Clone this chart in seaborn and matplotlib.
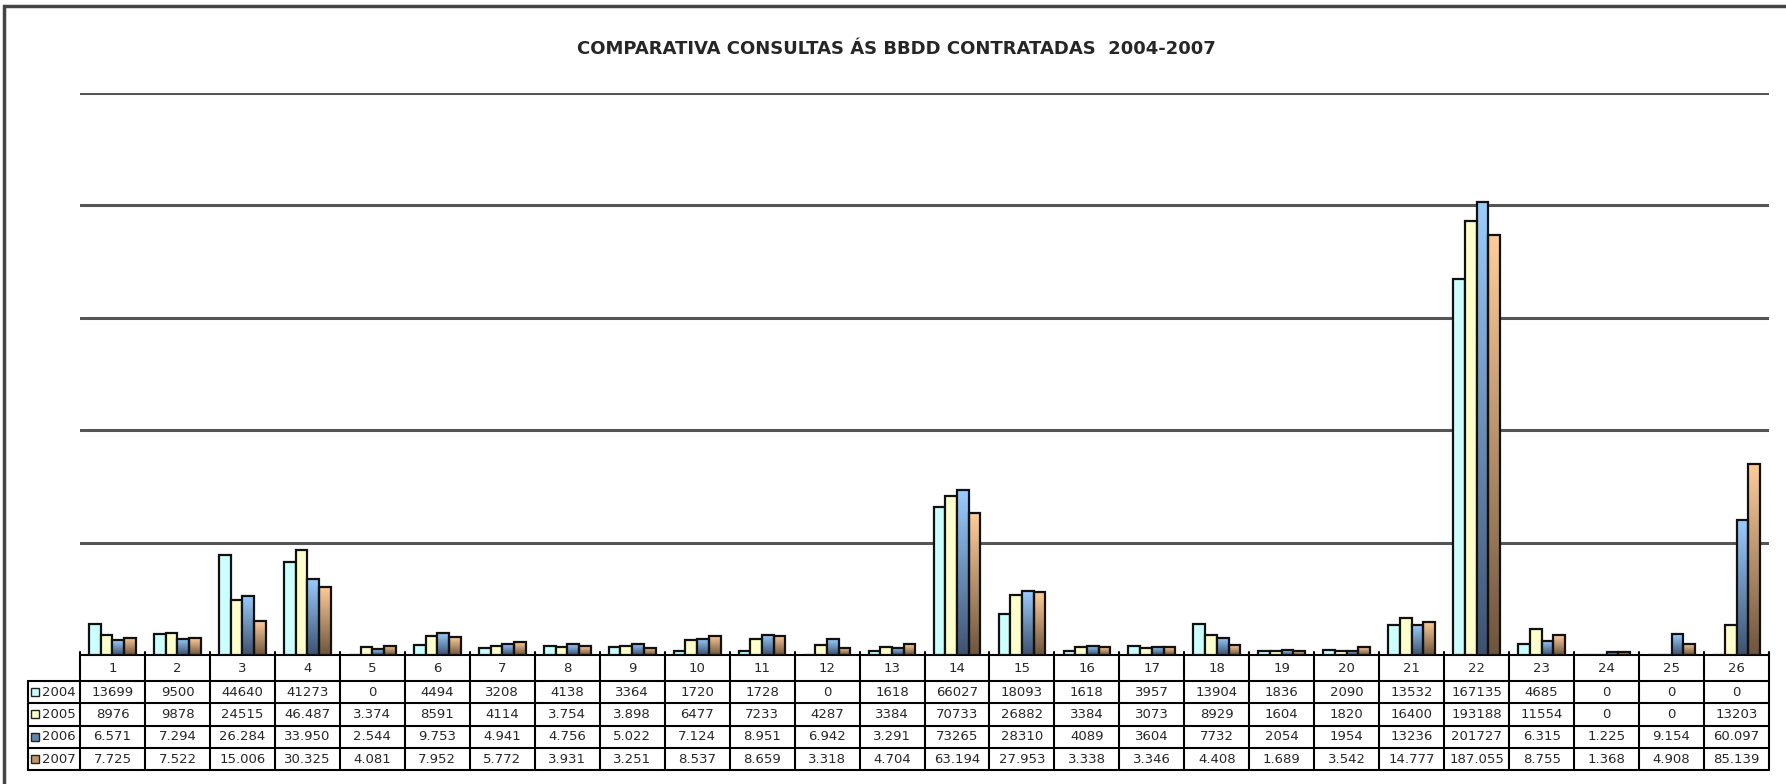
import matplotlib
matplotlib.use("Agg")
import matplotlib.pyplot as plt
import matplotlib.transforms as mtransforms
from matplotlib.patches import Rectangle
import numpy as np
import pandas as pd
import seaborn as sns

# values as printed in the data table (dots are thousands separators)
categories = [str(i) for i in range(1, 27)]
years = ["2004", "2005", "2006", "2007"]
txt_2004 = ["13699", "9500", "44640", "41273", "0", "4494", "3208", "4138", "3364", "1720",
            "1728", "0", "1618", "66027", "18093", "1618", "3957", "13904", "1836", "2090",
            "13532", "167135", "4685", "0", "0", "0"]
txt_2005 = ["8976", "9878", "24515", "46.487", "3.374", "8591", "4114", "3.754", "3.898", "6477",
            "7233", "4287", "3384", "70733", "26882", "3384", "3073", "8929", "1604", "1820",
            "16400", "193188", "11554", "0", "0", "13203"]
txt_2006 = ["6.571", "7.294", "26.284", "33.950", "2.544", "9.753", "4.941", "4.756", "5.022", "7.124",
            "8.951", "6.942", "3.291", "73265", "28310", "4089", "3604", "7732", "2054", "1954",
            "13236", "201727", "6.315", "1.225", "9.154", "60.097"]
txt_2007 = ["7.725", "7.522", "15.006", "30.325", "4.081", "7.952", "5.772", "3.931", "3.251", "8.537",
            "8.659", "3.318", "4.704", "63.194", "27.953", "3.338", "3.346", "4.408", "1.689", "3.542",
            "14.777", "187.055", "8.755", "1.368", "4.908", "85.139"]
table_txt = [txt_2004, txt_2005, txt_2006, txt_2007]

face = {"2004": "#CCFFFF", "2005": "#FFFFCC", "2006": "#99CCFF", "2007": "#FFCC99"}
grad = {"2006": ("#99CCFF", "#3E5270"), "2007": ("#FFCC99", "#6E553D")}
key = {"2004": "#CCFFFF", "2005": "#FFFFCC", "2006": "#5F86B0", "2007": "#C0956A"}

rows = []
for y, txt in zip(years, table_txt):
    for c, s in zip(categories, txt):
        rows.append({"cat": c, "year": y, "value": int(s.replace(".", ""))})
df = pd.DataFrame(rows)

sns.set_style("white")
plt.rcParams["font.family"] = ["DejaVu Sans"]

fig = plt.figure(figsize=(17.86, 7.84), dpi=100)
ax = fig.add_axes([80 / 1786, 1 - 655 / 784, 1689 / 1786, 562 / 784])

sns.barplot(data=df, x="cat", y="value", hue="year", hue_order=years, order=categories,
            palette=face, saturation=1, width=0.72, edgecolor="#111111", linewidth=1.6,
            legend=False, ax=ax, zorder=3)

# vertical gradient fill for 2006 / 2007 bars
n = len(categories)
for i, y in enumerate(years):
    if y not in grad:
        continue
    top = np.array(matplotlib.colors.to_rgb(grad[y][0]))
    bot = np.array(matplotlib.colors.to_rgb(grad[y][1]))
    g = np.linspace(0, 1, 64)[:, None, None]
    img = top * (1 - g) + bot * g
    for p in ax.patches[i * n:(i + 1) * n]:
        h = p.get_height()
        if h <= 0:
            continue
        x0 = p.get_x()
        im = ax.imshow(img, extent=(x0, x0 + p.get_width(), 0, h), aspect="auto",
                       origin="upper", zorder=3.5, interpolation="bilinear")
        im.set_clip_path(p)
        p.set_zorder(4)
        p.set_facecolor("none")

ax.set_xlim(-0.5, n - 0.5)
ax.set_ylim(0, 250000)
ax.set_aspect("auto")
ax.set_yticks(np.arange(50000, 250001, 50000))
ax.yaxis.grid(True, color="#555555", linewidth=2.2)
ax.set_axisbelow(True)
ax.tick_params(left=False, labelleft=False, bottom=False, labelbottom=False)
ax.set_xlabel("")
ax.set_ylabel("")
for s in ax.spines.values():
    s.set_visible(False)

# data table under the chart
tr = mtransforms.blended_transform_factory(ax.transData, ax.transAxes)
head_h = 26 / 562
row_h = 22.3 / 562
lab_left = -52 / 1689
lw = 1.5
y_head_bot = -head_h
y_bot = -head_h - 4 * row_h

# horizontal lines
ax.plot([-0.5, n - 0.5], [0, 0], transform=tr, color="black", lw=lw, clip_on=False)
for k in range(5):
    yy = -head_h - k * row_h
    ax.plot([lab_left, 1], [yy, yy], transform=ax.transAxes, color="black", lw=lw, clip_on=False)
# vertical lines
for b in np.arange(-0.5, n, 1.0):
    ax.plot([b, b], [0.006, y_bot], transform=tr, color="black", lw=lw, clip_on=False)
ax.plot([lab_left, lab_left], [y_head_bot, y_bot], transform=ax.transAxes, color="black",
        lw=lw, clip_on=False)

for i, c in enumerate(categories):
    ax.text(i, -head_h / 2, c, transform=tr, ha="center", va="center", fontsize=9.5)
for r, (y, txt) in enumerate(zip(years, table_txt)):
    yc = -head_h - (r + 0.5) * row_h
    for i, s in enumerate(txt):
        ax.text(i, yc, s, transform=tr, ha="center", va="center", fontsize=9.5)
    ax.plot([lab_left + 7 / 1689], [yc], transform=ax.transAxes, marker="s", ms=5.5,
            mfc=key[y], mec="#222222", mew=1, clip_on=False)
    ax.text(lab_left + 14 / 1689, yc, y, transform=ax.transAxes, ha="left", va="center",
            fontsize=9.5)

fig.text(896 / 1786, 1 - 49 / 784, "COMPARATIVA CONSULTAS ÁS BBDD CONTRATADAS  2004-2007",
         ha="center", va="center", fontsize=13, fontweight="bold")

fig.patches.append(Rectangle((4 / 1786, -0.1), 1.2, 1.1 - 6 / 784, transform=fig.transFigure,
                             fill=False, edgecolor="#444444", linewidth=2.5))

fig.savefig("out.png", dpi=100)
